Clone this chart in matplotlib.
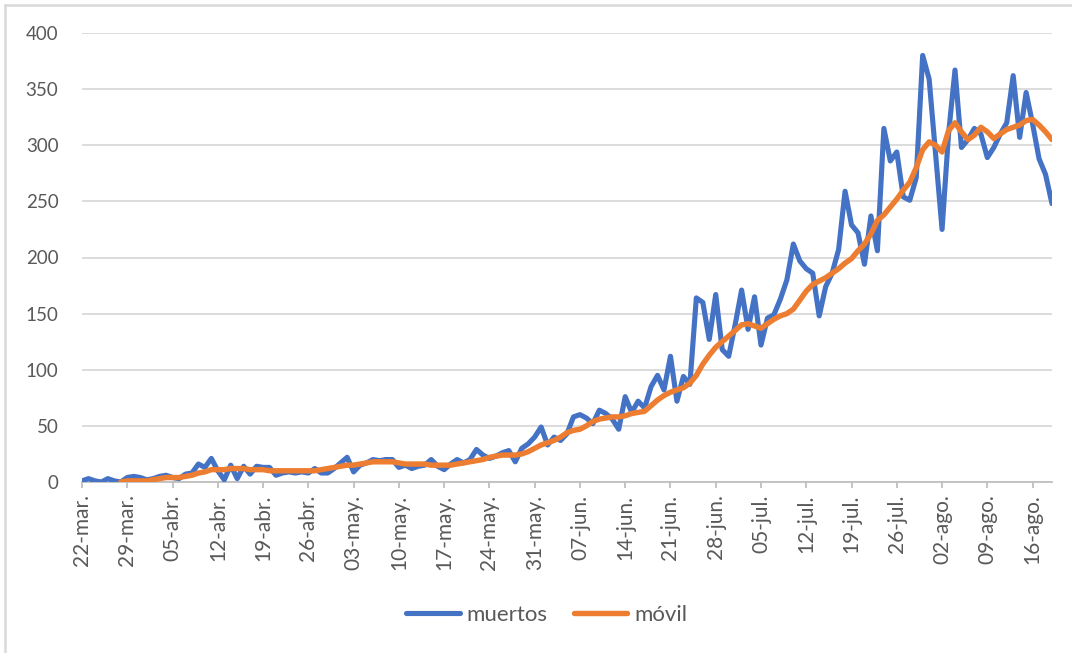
import numpy as np
import pandas as pd
import matplotlib
matplotlib.use("Agg")
import matplotlib.pyplot as plt
from matplotlib.lines import Line2D

plt.rcParams['font.family'] = ['Lato', 'DejaVu Sans']

##dias del 22-mar al 19-ago
fechas = pd.date_range("2020-03-22", "2020-08-19", freq="D")

##muertos diarios
muertos = [
    1, 3, 1, 0, 3, 1, 0, 4, 5, 4,
    2, 3, 5, 6, 4, 3, 7, 8, 16, 13,
    21, 10, 2, 15, 3, 14, 7, 14, 13, 13,
    6, 8, 9, 8, 9, 8, 12, 8, 8, 12,
    17, 22, 9, 15, 17, 20, 19, 20, 20, 13,
    15, 12, 14, 15, 20, 14, 11, 16, 20, 17,
    20, 29, 24, 21, 23, 26, 28, 18, 30, 34,
    40, 49, 33, 40, 37, 43, 58, 60, 57, 52,
    64, 61, 56, 47, 76, 62, 72, 66, 85, 95,
    82, 112, 72, 94, 87, 164, 160, 127, 167, 118,
    112, 140, 171, 136, 165, 122, 146, 149, 163, 180,
    212, 197, 190, 186, 148, 174, 186, 207, 259, 229,
    222, 194, 237, 206, 315, 286, 294, 254, 251, 271,
    380, 359, 292, 225, 310, 367, 298, 305, 315, 310,
    289, 298, 310, 320, 362, 307, 347, 319, 288, 274,
    248,
]

##media movil (empieza el 28-mar)
movil = [np.nan] * 6 + [
    0, 1, 1, 1,
    1, 2, 3, 4, 4, 4, 5, 6, 8, 9,
    11, 11, 11, 12, 12, 12, 11, 11, 11, 10,
    10, 10, 10, 10, 10, 10, 10, 11, 12, 13,
    14, 15, 15, 16, 17, 18, 18, 18, 18, 17,
    16, 16, 16, 16, 15, 15, 15, 15, 16, 17,
    18, 19, 20, 22, 23, 24, 24, 24, 25, 27,
    30, 33, 35, 37, 40, 44, 46, 47, 50, 54,
    56, 57, 58, 58, 59, 61, 62, 63, 68, 73,
    77, 80, 82, 84, 88, 95, 105, 113, 120, 125,
    130, 135, 140, 141, 139, 137, 141, 145, 148, 150,
    154, 162, 170, 176, 179, 182, 186, 190, 195, 199,
    206, 212, 221, 233, 238, 245, 252, 260, 267, 280,
    296, 303, 300, 294, 313, 320, 312, 305, 309, 316,
    312, 306, 310, 314, 316, 318, 322, 323, 318, 312,
    305,
]

etiquetas = ["22-mar.", "29-mar.", "05-abr.", "12-abr.", "19-abr.", "26-abr.",
             "03-may.", "10-may.", "17-may.", "24-may.", "31-may.", "07-jun.",
             "14-jun.", "21-jun.", "28-jun.", "05-jul.", "12-jul.", "19-jul.",
             "26-jul.", "02-ago.", "09-ago.", "16-ago."]

azul = "#4472C4"
naranja = "#ED7D31"
gris = "#595959"

fig = plt.figure(figsize=(10.72, 6.53), dpi=100)
ax = fig.add_axes([82 / 1072, 1 - 482 / 653, (1052 - 82) / 1072, (482 - 33) / 653])

x = np.arange(len(fechas))
ax.plot(x, muertos, color=azul, lw=3.7, solid_joinstyle="round", solid_capstyle="round", zorder=3)
ax.plot(x, movil, color=naranja, lw=3.9, solid_joinstyle="round", solid_capstyle="round", zorder=4)

ax.set_xlim(0, len(fechas) - 1)
ax.set_ylim(0, 400)
ax.set_yticks(range(0, 401, 50))
ax.set_xticks(x[::7])
ax.set_xticklabels(etiquetas, rotation=90)

ax.grid(axis="y", color="#D9D9D9", lw=1.3)
ax.set_axisbelow(True)
for s in ["top", "right", "left"]:
    ax.spines[s].set_visible(False)
ax.spines["bottom"].set_color("#BFBFBF")
ax.spines["bottom"].set_linewidth(1.3)
ax.tick_params(axis="y", length=0, pad=17, labelsize=13.5, labelcolor=gris)
ax.tick_params(axis="x", length=4, width=1.3, color="#BFBFBF", pad=5, labelsize=15, labelcolor=gris)

handles = [Line2D([], [], color=azul, lw=3.7, solid_capstyle="round"),
           Line2D([], [], color=naranja, lw=3.9, solid_capstyle="round")]
fig.legend(handles, ["muertos", "móvil"], loc="center", bbox_to_anchor=(0.51, 0.058),
           ncol=2, frameon=False, fontsize=16, labelcolor=gris,
           handlelength=2.4, handletextpad=0.3, columnspacing=1.2)

##borde del grafico
fig.add_artist(Line2D([5 / 1072, 5 / 1072], [0, 1 - 5 / 653], transform=fig.transFigure, color="#D9D9D9", lw=1.8))
fig.add_artist(Line2D([5 / 1072, 1], [1 - 5 / 653, 1 - 5 / 653], transform=fig.transFigure, color="#D9D9D9", lw=1.8))

fig.savefig("out.png", dpi=100)
